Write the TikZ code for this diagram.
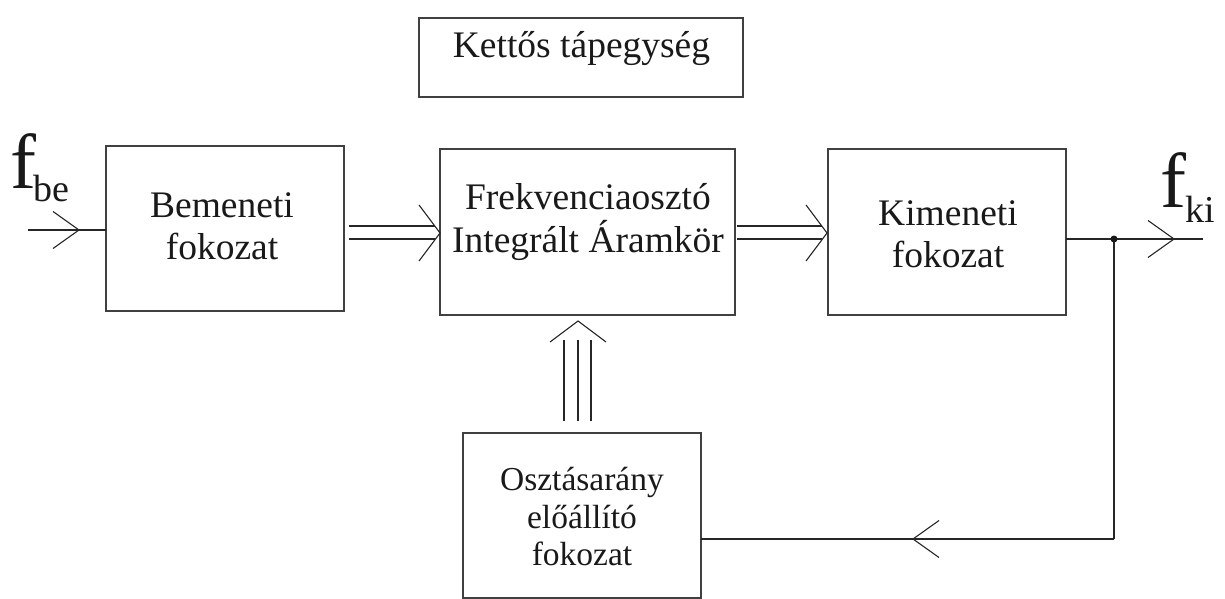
\documentclass[tikz,border=0pt]{standalone}
\usepackage{fontspec}
\setmainfont{Liberation Serif}
\begin{document}
\begin{tikzpicture}[x=1pt,y=-1pt,
  wire/.style={draw=black!85, line width=1.1pt},
  blk/.style={draw=black!75, line width=1.1pt, inner sep=0pt, outer sep=0pt,
              minimum width=238pt, minimum height=165pt},
  txt/.style={anchor=base, inner sep=0pt, text=black!90,
              font=\fontsize{37.5}{42}\selectfont},
  smalltxt/.style={txt, font=\fontsize{33.5}{38}\selectfont},
  sig/.style={anchor=base west, inner sep=0pt, text=black!90},
  bigchev/.pic={\draw[wire] (-21,-28) -- (0,0) -- (-21,28);},
  smallchev/.pic={\draw[wire] (-26,-18.5) -- (0,0) -- (-26,18.5);},
]
\useasboundingbox (0,0) rectangle (1225,599);

% blocks
\node[blk, minimum width=324pt, minimum height=79pt] (tap) at (581,57.5) {};
\node[blk] (bem) at (225,228.5) {};
\node[blk, minimum width=295pt, minimum height=166pt] (fr) at (587.5,232) {};
\node[blk, minimum height=166pt] (kim) at (947,232) {};
\node[blk] (osz) at (582,515.5) {};

% block texts
\node[txt] (tapA) at (581.5,58) {Kettős tápegység};
\node[txt] (bemA) at (222,217) {Bemeneti};
\node[txt] (bemB) at (222,259) {fokozat};
\node[txt] (frA) at (588,209) {Frekvenciaosztó};
\node[txt] (frB) at (588,252) {Integrált Áramkör};
\node[txt] (kimA) at (948,225) {Kimeneti};
\node[txt] (kimB) at (948,267) {fokozat};
\node[smalltxt] (oszA) at (582,490) {Osztásarány};
\node[smalltxt] (oszB) at (582,528) {előállító};
\node[smalltxt] (oszC) at (582,565) {fokozat};

% signal names
\node[sig] (fbe) at (10.5,188) {\fontsize{78}{80}\selectfont f\kern-3.5pt\raisebox{-13.5pt}{\fontsize{38}{40}\selectfont be}};
\node[sig] (fki) at (1160.5,207) {\fontsize{78}{80}\selectfont f\kern-1.5pt\raisebox{-15pt}{\fontsize{38}{40}\selectfont ki}};

% rails of the parallel buses
\coordinate (r1) at (0,226);
\coordinate (r2) at (0,239);
\coordinate (rt) at (0,233);
\coordinate (bus) at (578,0);

% input
\coordinate (in) at (28,230);
\draw[wire] (in) -- (bem.west |- in);
\pic at (79,230) {smallchev};

% Bemeneti -> Frekvenciaoszto (two wires)
\draw[wire] ([xshift=5pt]bem.east |- r1) -- ([xshift=-5pt]fr.west |- r1);
\draw[wire] ([xshift=5pt]bem.east |- r2) -- ([xshift=-5pt]fr.west |- r2);
\pic at (fr.west |- rt) {bigchev};

% Frekvenciaoszto -> Kimeneti (two wires)
\draw[wire] ([xshift=2pt]fr.east |- r1) -- ([xshift=-6pt]kim.west |- r1);
\draw[wire] ([xshift=2pt]fr.east |- r2) -- ([xshift=-6pt]kim.west |- r2);
\pic at ([xshift=-1pt]kim.west |- rt) {bigchev};

% Osztasarany -> Frekvenciaoszto (three wires)
\foreach \dx in {-14,0,13}{
  \draw[wire] ([xshift=\dx pt,yshift=12pt]osz.north -| bus)
           -- ([xshift=\dx pt,yshift=-25pt]fr.south -| bus);
}
\pic[rotate=90] at ([yshift=-6pt]fr.south -| bus) {bigchev};

% output and feedback
\coordinate (out) at (1203,239);
\coordinate (j) at (1114,239);
\coordinate (c) at (1114,539);
\draw[wire] (kim.east |- out) -- (out);
\pic at (1174,239) {smallchev};
\draw[wire, line width=1.3pt] (j) -- (c);
\draw[wire] (c) -- (osz.east |- c);
\pic[rotate=180] at (913,539) {smallchev};
\fill[black!90] (j) circle (3.5pt);
\end{tikzpicture}
\end{document}
